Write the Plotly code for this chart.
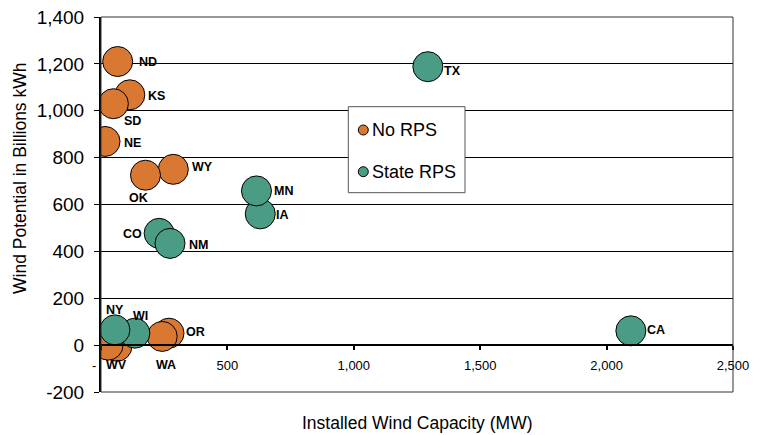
import plotly.graph_objects as go

# ---- data ----
no_rps_states = ["KS", "SD", "ND", "NE", "WY", "OK", "OR", "WA", "", "WV"]
no_rps_capacity = [114, 49, 66, 16, 286, 176, 269, 242, 63, 28]
no_rps_potential = [1068, 1030, 1210, 869, 750, 725, 51, 37, -5, 0]

state_rps_states = ["TX", "IA", "MN", "CO", "NM", "WI", "NY", "CA"]
state_rps_capacity = [1293, 630, 615, 230, 273, 134, 55, 2096]
state_rps_potential = [1188, 560, 658, 477, 434, 51, 65, 61]

x_tick_vals = [0, 500, 1000, 1500, 2000, 2500]
x_tick_text = ["", "500", "1,000", "1,500", "2,000", "2,500"]
x_zero_label = "-"
y_tick_vals = [-200, 0, 200, 400, 600, 800, 1000, 1200, 1400]
y_tick_text = ["-200", "0", "200", "400", "600", "800", "1,000", "1,200", "1,400"]

series_names = ["No RPS", "State RPS"]

# ---- style ----
PAGE_OFF = 8  # default body margin of the html page
W, H = 748, 427
ML, MT = 101 - PAGE_OFF, 17 - PAGE_OFF
MR = W - (733 - PAGE_OFF)
MB = H - (392 - PAGE_OFF)
PW, PH = W - ML - MR, H - MT - MB
FONT = "Arial, Liberation Sans, sans-serif"
ORANGE = "#D87833"
GREEN = "#4A9C84"

# label offsets in screen pixels (dx right, dy down)
label_offsets = {
    "ND": (30, 0), "KS": (27, 1), "SD": (19, 17), "NE": (27, 1.5),
    "WY": (29, -2), "OK": (-7, 22.5), "MN": (27, 0), "IA": (22, 1),
    "CO": (-27, 1), "NM": (28, 2), "TX": (25, 4), "CA": (25, -1),
    "NY": (0.5, -19.5), "WI": (5.5, -17.5), "OR": (26, -1), "WA": (4, 29),
    "WV": (8, 20),
}


def px_x(p):
    return (p - PAGE_OFF - ML) / PW


def px_y(p):
    return (H - MB - (p - PAGE_OFF)) / PH


fig = go.Figure()
fig.add_trace(go.Scatter(
    x=no_rps_capacity, y=no_rps_potential, mode="markers", name=series_names[0],
    marker=dict(size=30, color=ORANGE, line=dict(color="black", width=1)),
    showlegend=False, hoverinfo="skip"))
fig.add_trace(go.Scatter(
    x=state_rps_capacity, y=state_rps_potential, mode="markers", name=series_names[1],
    marker=dict(size=30, color=GREEN, line=dict(color="black", width=1)),
    showlegend=False, hoverinfo="skip"))

annotations = []
for states, xs, ys in [(no_rps_states, no_rps_capacity, no_rps_potential),
                       (state_rps_states, state_rps_capacity, state_rps_potential)]:
    for s, xv, yv in zip(states, xs, ys):
        if not s:
            continue
        dx, dy = label_offsets[s]
        annotations.append(dict(
            x=xv, y=yv, xref="x", yref="y", text=s, showarrow=False,
            xanchor="center", yanchor="middle",
            xshift=dx, yshift=-dy,
            font=dict(family=FONT, size=12.5, color="black", weight="bold")))

# zero label of the x axis (accounting style dash, offset left)
annotations.append(dict(
    x=0, y=0, xref="x", yref="y", text=x_zero_label, showarrow=False,
    xanchor="center", yanchor="middle", xshift=-7, yshift=-20,
    font=dict(family=FONT, size=13, color="black")))

# axis titles
annotations.append(dict(
    x=px_x(416.5), y=px_y(423), xref="paper", yref="paper",
    xanchor="center", yanchor="middle",
    text="Installed Wind Capacity (MW)", showarrow=False,
    font=dict(family=FONT, size=17.5, color="black")))
annotations.append(dict(
    x=px_x(20), y=px_y(179), xref="paper", yref="paper",
    xanchor="center", yanchor="middle",
    text="Wind Potential in Billions kWh", showarrow=False, textangle=-90,
    font=dict(family=FONT, size=17.5, color="black")))

# manual legend
shapes = [
    dict(type="rect", xref="paper", yref="paper", x0=0, x1=1, y0=0, y1=1,
         line=dict(color="#333333", width=1), fillcolor="rgba(0,0,0,0)", layer="above"),
    dict(type="rect", xref="paper", yref="paper",
         x0=px_x(348.3), x1=px_x(465), y0=px_y(192.7), y1=px_y(106.7),
         line=dict(color="#555555", width=1), fillcolor="white", layer="above"),
]
for name, color, cy in [(series_names[0], ORANGE, 130), (series_names[1], GREEN, 171.7)]:
    shapes.append(dict(
        type="circle", xref="paper", yref="paper",
        xsizemode="pixel", ysizemode="pixel",
        xanchor=px_x(363.3), yanchor=px_y(cy),
        x0=-5, x1=5, y0=-5, y1=5,
        line=dict(color="black", width=1), fillcolor=color, layer="above"))
    annotations.append(dict(
        x=px_x(369.5), y=px_y(cy), xref="paper", yref="paper",
        xanchor="left", yanchor="middle", text=name, showarrow=False,
        font=dict(family=FONT, size=18, color="black")))

fig.update_layout(
    width=W, height=H,
    margin=dict(l=ML, r=MR, t=MT, b=MB, autoexpand=False),
    paper_bgcolor="white", plot_bgcolor="white",
    font=dict(family=FONT, color="black"),
    showlegend=False,
    annotations=annotations,
    shapes=shapes,
    xaxis=dict(
        range=[0, 2500], anchor="free", position=200 / 1600, automargin=False,
        tickmode="array", tickvals=x_tick_vals, ticktext=x_tick_text,
        ticks="outside", ticklen=4, tickwidth=2, tickcolor="black",
        showline=True, linecolor="black", linewidth=2,
        showgrid=False, zeroline=False,
        tickfont=dict(family=FONT, size=13, color="black"),
        ticklabelstandoff=4, ticklabeloverflow="allow",
    ),
    yaxis=dict(
        range=[-200, 1400], automargin=False,
        tickmode="array", tickvals=y_tick_vals, ticktext=y_tick_text,
        ticks="outside", ticklen=5, tickwidth=1, tickcolor="black",
        showline=True, linecolor="black", linewidth=2,
        showgrid=True, gridcolor="black", gridwidth=1,
        zeroline=False,
        tickfont=dict(family=FONT, size=19, color="black"),
        ticklabelstandoff=6, ticklabeloverflow="allow",
    ),
)

fig.write_html("out.html")
